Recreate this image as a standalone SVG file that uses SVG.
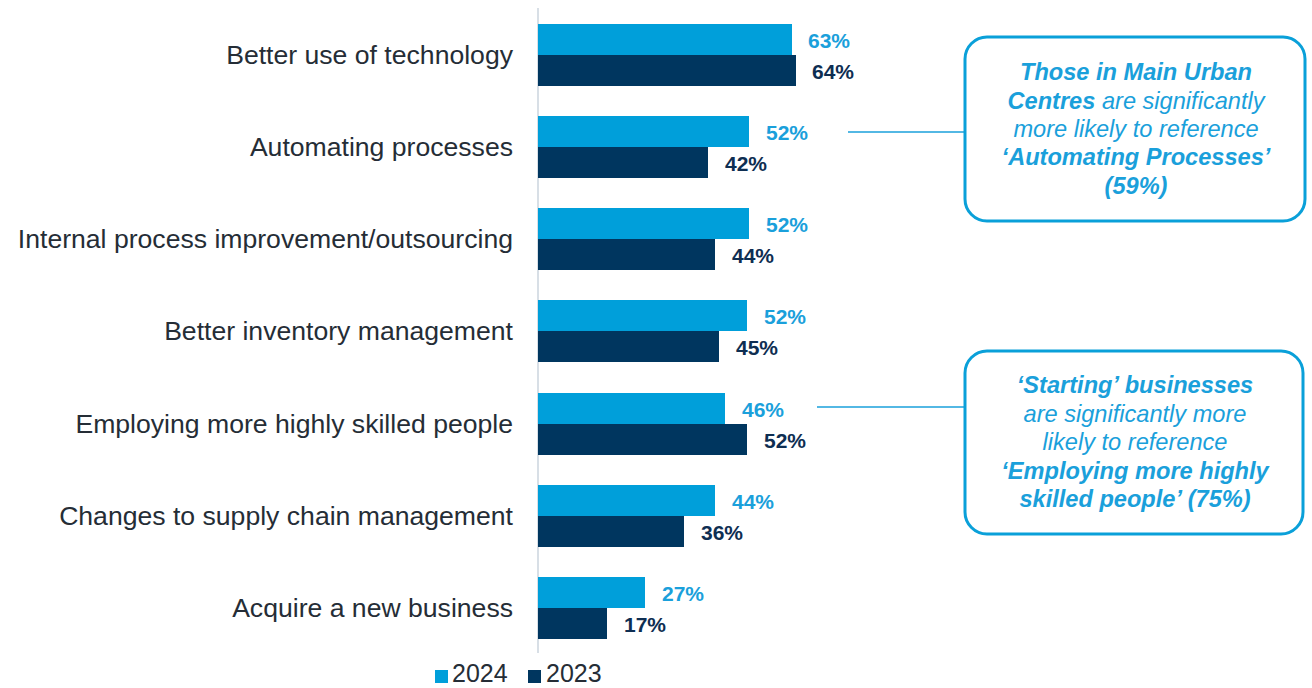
<svg xmlns="http://www.w3.org/2000/svg" width="1312" height="688" viewBox="0 0 1312 688">
<style>
.cat{font-family:"Liberation Sans",Arial,sans-serif;font-size:26.6px;fill:#252d36;text-anchor:end}
.v24{font-family:"Liberation Sans",Arial,sans-serif;font-size:21px;font-weight:bold;fill:#1aa0db}
.v23{font-family:"Liberation Sans",Arial,sans-serif;font-size:21px;font-weight:bold;fill:#0e2e52}
.b24{fill:#009fda}
.b23{fill:#00365f}
.leg{font-family:"Liberation Sans",Arial,sans-serif;font-size:25px;fill:#252d36}
.box{fill:#fff;stroke:#0aa0d9;stroke-width:3}
.ct{font-family:"Liberation Sans",Arial,sans-serif;font-size:23.6px;font-style:italic;fill:#1aa0db;text-anchor:middle}
.bd{font-weight:bold}
.conn{stroke:#1aa0db;stroke-width:1.5;fill:none}
</style>
<rect width="1312" height="688" fill="#fff"/>
<line x1="538" y1="8" x2="538" y2="653" stroke="#d8dfe6" stroke-width="2"/>
<g id="cat1">
<text class="cat" x="513" y="64">Better use of technology</text>
<rect class="b24" x="538" y="24" width="254" height="31"/>
<rect class="b23" x="538" y="55" width="258" height="31"/>
<text class="v24" x="808" y="48">63%</text>
<text class="v23" x="812" y="79">64%</text>
</g>
<g id="cat2">
<text class="cat" x="513" y="156">Automating processes</text>
<rect class="b24" x="538" y="116" width="211" height="31"/>
<rect class="b23" x="538" y="147" width="170" height="31"/>
<text class="v24" x="766" y="140">52%</text>
<text class="v23" x="725" y="171">42%</text>
</g>
<g id="cat3">
<text class="cat" x="513" y="248">Internal process improvement/outsourcing</text>
<rect class="b24" x="538" y="208" width="211" height="31"/>
<rect class="b23" x="538" y="239" width="177" height="31"/>
<text class="v24" x="766" y="232">52%</text>
<text class="v23" x="732" y="263">44%</text>
</g>
<g id="cat4">
<text class="cat" x="513" y="340">Better inventory management</text>
<rect class="b24" x="538" y="300" width="209" height="31"/>
<rect class="b23" x="538" y="331" width="181" height="31"/>
<text class="v24" x="764" y="324">52%</text>
<text class="v23" x="736" y="355">45%</text>
</g>
<g id="cat5">
<text class="cat" x="513" y="433">Employing more highly skilled people</text>
<rect class="b24" x="538" y="393" width="187" height="31"/>
<rect class="b23" x="538" y="424" width="209" height="31"/>
<text class="v24" x="742" y="417">46%</text>
<text class="v23" x="764" y="448">52%</text>
</g>
<g id="cat6">
<text class="cat" x="513" y="525">Changes to supply chain management</text>
<rect class="b24" x="538" y="485" width="177" height="31"/>
<rect class="b23" x="538" y="516" width="146" height="31"/>
<text class="v24" x="732" y="509">44%</text>
<text class="v23" x="701" y="540">36%</text>
</g>
<g id="cat7">
<text class="cat" x="513" y="617">Acquire a new business</text>
<rect class="b24" x="538" y="577" width="107" height="31"/>
<rect class="b23" x="538" y="608" width="69" height="31"/>
<text class="v24" x="662" y="601">27%</text>
<text class="v23" x="624" y="632">17%</text>
</g>
<g id="legend">
<rect class="b24" x="435" y="670" width="13" height="13"/>
<text class="leg" x="452" y="682">2024</text>
<rect class="b23" x="528" y="670" width="13" height="13"/>
<text class="leg" x="546" y="682">2023</text>
</g>
<g id="connectors">
<line class="conn" x1="848" y1="132" x2="965" y2="132"/>
<line class="conn" x1="817" y1="407" x2="965" y2="407"/>
</g>
<g id="callout1">
<rect class="box" x="965" y="37" width="340" height="184" rx="22"/>
<text class="ct bd" x="1136" y="80">Those in Main Urban</text>
<text class="ct" x="1136" y="109"><tspan class="bd">Centres</tspan> are significantly</text>
<text class="ct" x="1136" y="137">more likely to reference</text>
<text class="ct bd" x="1136" y="165">‘Automating Processes’</text>
<text class="ct bd" x="1136" y="194">(59%)</text>
</g>
<g id="callout2">
<rect class="box" x="965" y="351" width="338" height="183" rx="22"/>
<text class="ct bd" x="1135" y="393">‘Starting’ businesses</text>
<text class="ct" x="1135" y="422">are significantly more</text>
<text class="ct" x="1135" y="450">likely to reference</text>
<text class="ct bd" x="1135" y="479">‘Employing more highly</text>
<text class="ct bd" x="1135" y="507">skilled people’ (75%)</text>
</g>
</svg>
